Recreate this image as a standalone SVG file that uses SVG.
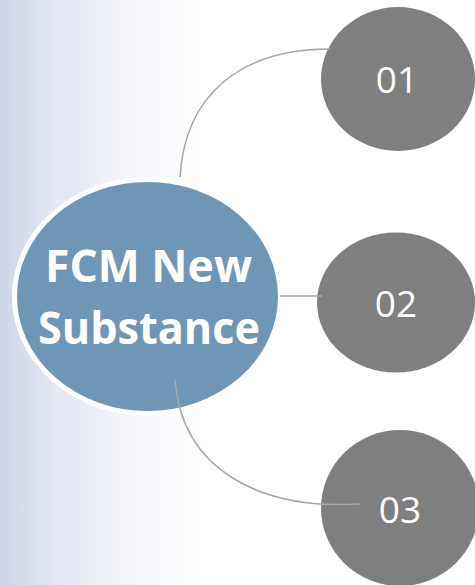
<svg xmlns="http://www.w3.org/2000/svg" width="475" height="585" viewBox="0 0 475 585">
  <defs>
    <linearGradient id="bg" x1="0" y1="0" x2="210" y2="0" gradientUnits="userSpaceOnUse">
      <stop offset="0" stop-color="#ced4e9"/>
      <stop offset="0.25" stop-color="#e2e6f3"/>
      <stop offset="0.5" stop-color="#eff1f8"/>
      <stop offset="0.8" stop-color="#fafbfd"/>
      <stop offset="1" stop-color="#ffffff"/>
    </linearGradient>
  </defs>
  <style>
    .num { fill: #7f7f7f; }
    .numtxt { font-family: "Open Sans", "DejaVu Sans", sans-serif; font-size: 37px; fill: #ffffff; text-anchor: middle; }
    .main { fill: #6f96b4; stroke: #ffffff; stroke-width: 5; }
    .maintxt { font-family: "Open Sans", "DejaVu Sans", sans-serif; font-size: 44px; font-weight: bold; fill: #ffffff; text-anchor: middle; }
    .conn { fill: none; stroke: #a6a6a6; stroke-width: 1.5; }
  </style>
  <rect x="0" y="0" width="475" height="585" fill="url(#bg)"/>

  <g id="node-main">
    <ellipse class="main" cx="147.5" cy="296.5" rx="133" ry="117"/>
    <text class="maintxt" x="148.5" y="282" textLength="207" lengthAdjust="spacingAndGlyphs">FCM New</text>
    <text class="maintxt" x="149" y="344" textLength="222" lengthAdjust="spacingAndGlyphs">Substance</text>
  </g>

  <g id="node-01">
    <ellipse class="num" cx="398" cy="79" rx="77" ry="72"/>
    <text class="numtxt" x="397" y="93">01</text>
  </g>

  <g id="node-02">
    <ellipse class="num" cx="396" cy="302.5" rx="79" ry="70"/>
    <text class="numtxt" x="396" y="317">02</text>
  </g>

  <g id="node-03">
    <ellipse class="num" cx="400" cy="508" rx="79" ry="78"/>
    <text class="numtxt" x="400" y="523">03</text>
  </g>

  <g id="connectors">
    <path class="conn" d="M180,177 C185,95 240,49 330,49"/>
    <path class="conn" d="M280,296 L322,296"/>
    <path class="conn" d="M175,380 C182,470 260,510 360,504"/>
  </g>
</svg>
